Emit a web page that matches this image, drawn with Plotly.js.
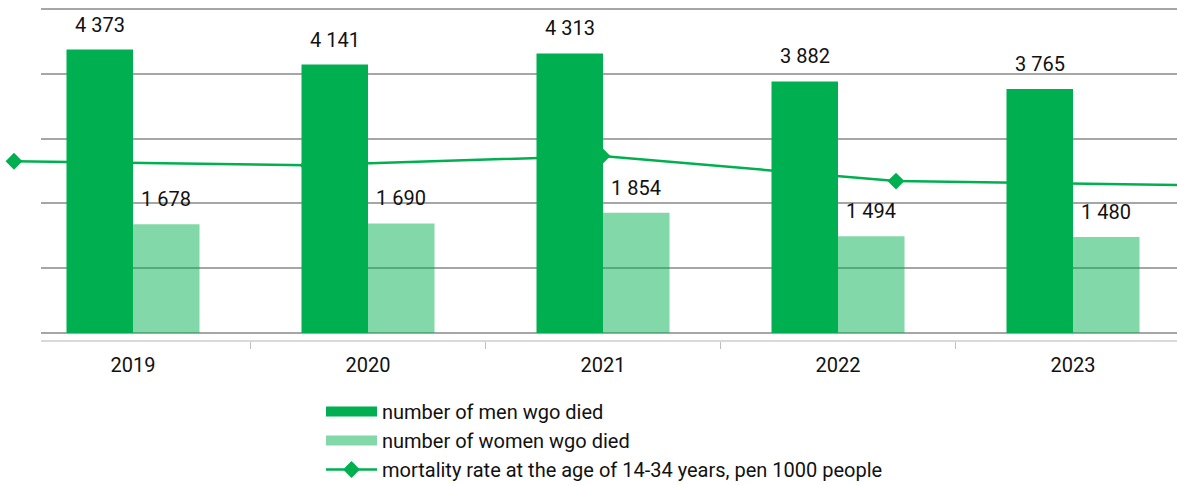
<!DOCTYPE html>
<html>
<head>
<meta charset="utf-8">
<script src="https://cdn.plot.ly/plotly-3.0.1.min.js"></script>
<style>html,body{margin:0;padding:0;background:#fff;}#chart{width:1177px;height:485px;}</style>
</head>
<body>
<div id="chart"></div>
<script>
const years = ["2019", "2020", "2021", "2022", "2023"];
const menDied = [4373, 4141, 4313, 3882, 3765];
const womenDied = [1678, 1690, 1854, 1494, 1480];
const mortalityRate = [1.35, 1.32, 1.39, 1.20, 1.17];

const seriesNames = [
  "number of men wgo died",
  "number of women wgo died",
  "mortality rate at the age of 14-34 years, pen 1000 people"
];

const green = "#00b050";
const lightGreen = "rgba(0,176,80,0.49)";
const fontFam = "Roboto, 'Noto Sans', sans-serif";

function fmt(v) { return String(v).replace(/\B(?=(\d{3})+(?!\d))/g, " "); }

const W = 1177, H = 485;
const plotTop = 7, plotBottom = 340, barLeft = 41;
const yDomain = [1 - plotBottom / H, 1 - plotTop / H];

const traces = [
  {
    type: "scatter", mode: "lines+markers",
    x: years, y: mortalityRate, xaxis: "x", yaxis: "y",
    name: seriesNames[2], legendrank: 3,
    line: {color: green, width: 2.5},
    marker: {symbol: "diamond", size: 13, color: green},
    cliponaxis: false, hoverinfo: "skip"
  },
  {
    type: "bar", x: years, y: menDied, xaxis: "x2", yaxis: "y2",
    name: seriesNames[0], showlegend: false,
    marker: {color: green}, hoverinfo: "skip"
  },
  {
    type: "bar", x: years, y: womenDied, xaxis: "x2", yaxis: "y2",
    name: seriesNames[1], showlegend: false,
    marker: {color: lightGreen}, hoverinfo: "skip"
  },
  {
    type: "scatter", mode: "lines", x: [null], y: [null], xaxis: "x2", yaxis: "y2",
    name: seriesNames[0], legendrank: 1,
    line: {color: green, width: 12}
  },
  {
    type: "scatter", mode: "lines", x: [null], y: [null], xaxis: "x2", yaxis: "y2",
    name: seriesNames[1], legendrank: 2,
    line: {color: lightGreen, width: 12}
  }
];

const catW = 235;
const barShift = catW * (1 - 0.434) / 4;
const annotations = [];
years.forEach((yr, i) => {
  annotations.push({x: i, y: menDied[i], xref: "x2", yref: "y2", text: fmt(menDied[i]),
    showarrow: false, yanchor: "bottom", xshift: -barShift, yshift: 11,
    font: {family: fontFam, size: 20, color: "#111"}});
  annotations.push({x: i, y: womenDied[i], xref: "x2", yref: "y2", text: fmt(womenDied[i]),
    showarrow: false, yanchor: "bottom", xshift: barShift, yshift: 11,
    font: {family: fontFam, size: 20, color: "#111"}});
});

const r0 = -(133 - barLeft) / catW;
const r1 = r0 + (W - barLeft) / catW;
const l0 = -14 / 294;
const l1 = (W - 14) / 294;

const layout = {
  width: W, height: H,
  margin: {l: 0, r: 0, t: 0, b: 0, autoexpand: false},
  paper_bgcolor: "#fff", plot_bgcolor: "rgba(0,0,0,0)",
  font: {family: fontFam, size: 20, color: "#111"},
  barmode: "group", bargap: 0.434, bargroupgap: 0,
  showlegend: true,
  legend: {
    x: 321 / W, xanchor: "left", y: 1 - 392 / H, yanchor: "top",
    font: {family: fontFam, size: 20, color: "#111"},
    itemwidth: 51, tracegroupgap: 0, bgcolor: "rgba(0,0,0,0)",
    traceorder: "normal"
  },
  xaxis: {
    domain: [0, 1], range: [l0, l1], type: "category",
    visible: false, fixedrange: true
  },
  yaxis: {
    domain: yDomain, range: [0, 2.515], anchor: "x",
    visible: false, fixedrange: true
  },
  xaxis2: {
    domain: [barLeft / W, 1], range: [r0, r1], type: "category", anchor: "y2",
    showline: true, linecolor: "#d9d9d9", linewidth: 1.5,
    ticks: "outside", tickson: "boundaries", ticklen: 7, tickcolor: "#bfbfbf", tickwidth: 1,
    showgrid: false, tickfont: {family: fontFam, size: 20, color: "#111"},
    ticklabelstandoff: 6, fixedrange: true
  },
  yaxis2: {
    domain: yDomain, range: [-108, 5030], anchor: "x2",
    dtick: 1000, tick0: 0, showticklabels: false, ticks: "",
    showgrid: true, gridcolor: "#a6a6a6", gridwidth: 2,
    zeroline: true, zerolinecolor: "#a6a6a6", zerolinewidth: 2.5,
    showline: false, fixedrange: true
  },
  annotations: annotations
};

Plotly.newPlot("chart", traces, layout, {displayModeBar: false, staticPlot: true});
</script>
</body>
</html>
